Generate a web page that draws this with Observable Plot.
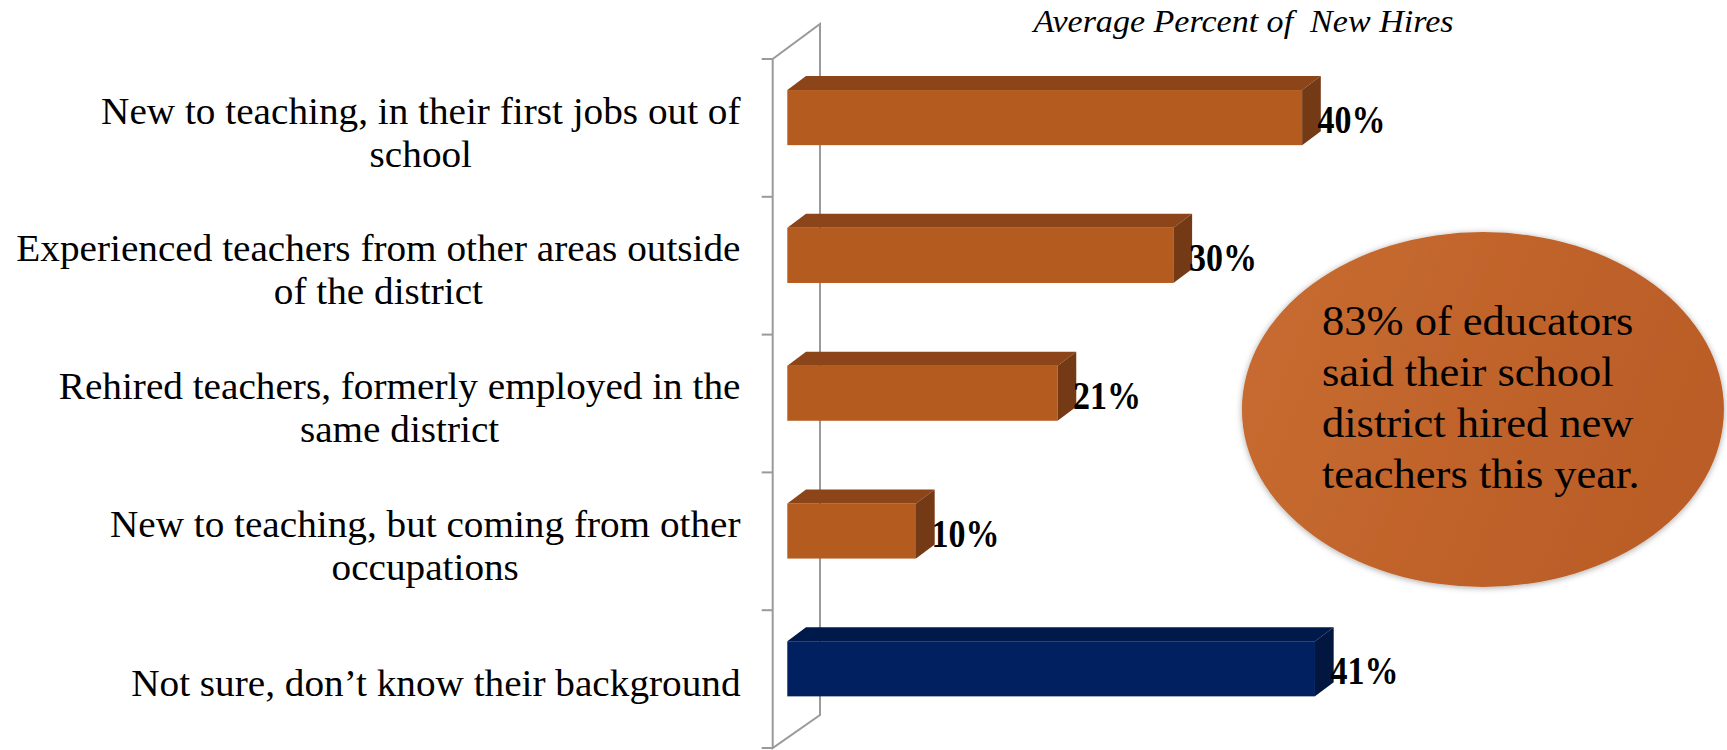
<!DOCTYPE html>
<html><head><meta charset="utf-8">
<script src="https://cdn.jsdelivr.net/npm/d3@7"></script>
<script src="https://cdn.jsdelivr.net/npm/@observablehq/plot@0.6"></script>
<style>
html,body{margin:0;padding:0;background:#fff;}
#chart svg{display:block;}
</style></head><body><div id="chart"></div>
<script>
// ---------- data ----------
const categories = [
  "New to teaching, in their first jobs out of\nschool",
  "Experienced teachers from other areas outside\nof the district",
  "Rehired teachers, formerly employed in the\nsame district",
  "New to teaching, but coming from other\noccupations",
  "Not sure, don\u2019t know their background"
];
const values = [40, 30, 21, 10, 41];
const groups = ["known", "known", "known", "known", "unknown"];
const chartTitle = "Average Percent of  New Hires";
const calloutLines = ["83% of educators", "said their school", "district hired new", "teachers this year."];

const data = categories.map((c, i) => ({category: c, value: values[i], group: groups[i]}));

// ---------- styling ----------
const W = 1727, H = 750;
const X0 = 787.3, PX = 12.87, XMAX = 72;
const frontCol = {known: "#B45B20", unknown: "#002060"};
const topCol = {known: "#8B4519", unknown: "#00194B"};
const sideCol = {known: "#743A16", unknown: "#021640"};
const BAR_DY = -10.3, DEPTH_X = 18.7, DEPTH_Y = 14;
const FONT = "'Liberation Serif', 'Times New Roman', serif";

function bandOf(scales) {
  const y = scales.y;
  const bw = typeof y.bandwidth === "function" ? y.bandwidth() : scales.scales.y.bandwidth;
  const st = typeof y.step === "function" ? y.step() : scales.scales.y.step;
  return {bw, st};
}

function wallMark(index, scales, values, dims) {
  const {st} = bandOf(scales);
  const x0 = scales.x(0);
  const fx = x0 - 14.6, bx = x0 + 32.7;
  const top = dims.marginTop, bottom = dims.height - dims.marginBottom;
  const g = d3.create("svg:g").attr("fill", "none").attr("stroke", "#9a9a9a").attr("stroke-width", 2);
  g.append("path").attr("d", `M${fx},${bottom}L${fx},${top}L${bx},${top - 35}L${bx},${bottom - 33}Z`);
  for (let i = 0; i <= categories.length; i++) {
    const yy = scales.y(categories[Math.min(i, categories.length - 1)]) - st * 0.3 + (i === categories.length ? st : 0);
    g.append("line").attr("x1", fx - 11).attr("x2", fx).attr("y1", yy).attr("y2", yy);
  }
  return g.node();
}

function facesMark(index, scales, values, dims) {
  const {bw} = bandOf(scales);
  const g = d3.create("svg:g");
  for (const d of data) {
    const x0 = scales.x(0), x1 = scales.x(d.value);
    const t = scales.y(d.category) + BAR_DY, b = t + bw;
    g.append("polygon")
      .attr("points", [[x0, t], [x0 + DEPTH_X, t - DEPTH_Y], [x1 + DEPTH_X, t - DEPTH_Y], [x1, t]].join(" "))
      .attr("fill", topCol[d.group]);
    g.append("polygon")
      .attr("points", [[x1, t], [x1 + DEPTH_X, t - DEPTH_Y], [x1 + DEPTH_X, b - DEPTH_Y], [x1, b]].join(" "))
      .attr("fill", sideCol[d.group]);
  }
  return g.node();
}

function calloutMark(index, scales, values, dims) {
  const {bw} = bandOf(scales);
  const cx = scales.x(54.05);
  const cy = scales.y(categories[2]) + bw / 2 + 6;
  const g = d3.create("svg:g");
  const defs = g.append("defs");
  const grad = defs.append("linearGradient").attr("id", "ellGrad").attr("x1", "0").attr("x2", "1").attr("y1", "0").attr("y2", "0.3");
  grad.append("stop").attr("offset", "0").attr("stop-color", "#C86C31");
  grad.append("stop").attr("offset", "1").attr("stop-color", "#BA5D27");
  const f = defs.append("filter").attr("id", "ellShadow").attr("x", "-10%").attr("y", "-10%").attr("width", "120%").attr("height", "120%");
  f.append("feDropShadow").attr("dx", 0).attr("dy", 1).attr("stdDeviation", 3).attr("flood-color", "#000").attr("flood-opacity", 0.35);
  g.append("ellipse").attr("cx", cx).attr("cy", cy).attr("rx", 241).attr("ry", 177.5)
    .attr("fill", "url(#ellGrad)").attr("filter", "url(#ellShadow)");
  const txt = g.append("text").attr("font-family", FONT).attr("font-size", 42).attr("fill", "#000")
    .attr("text-anchor", "start").attr("class", "callout-text");
  calloutLines.forEach((line, i) => {
    txt.append("tspan").attr("x", cx - 161).attr("y", cy - 74.5 + i * 51).text(line);
  });
  return g.node();
}

const plot = Plot.plot({
  width: W, height: H,
  marginLeft: X0, marginRight: W - X0 - XMAX * PX, marginTop: 59, marginBottom: 2,
  x: {domain: [0, XMAX], axis: null},
  y: {domain: categories, paddingInner: 0.6, paddingOuter: 0.3, axis: null, round: false},
  style: {background: "white", fontFamily: FONT, color: "black"},
  marks: [
    wallMark,
    Plot.barX(data.filter(d => d.group === "known"), {x: "value", y: "category", fill: frontCol.known, dy: BAR_DY}),
    Plot.barX(data.filter(d => d.group === "unknown"), {x: "value", y: "category", fill: frontCol.unknown, dy: BAR_DY}),
    facesMark,
    Plot.text(data, {x: "value", y: "category", text: d => d.value + "%", dx: 15, dy: -8,
      textAnchor: "start", fontSize: 40, fontWeight: "bold", fill: "black"}),
    Plot.text(data, {y: "category", text: "category", frameAnchor: "left", dx: -47.3, dy: 3,
      textAnchor: "end", fontSize: 37, lineHeight: 1.16, fill: "black"}),
    calloutMark,
    Plot.text([chartTitle], {frameAnchor: "top-left", dx: 1243 - X0, dy: -28, textAnchor: "middle",
      lineAnchor: "bottom", fontSize: 32, fontStyle: "italic", fill: "black"})
  ]
});
document.getElementById("chart").appendChild(plot);

// ---------- text fitting ----------
const textGroups = plot.querySelectorAll('g[aria-label="text"]');
const vGroup = textGroups[0], cGroup = textGroups[1], tGroup = textGroups[2];
if (vGroup) vGroup.querySelectorAll("text").forEach(t => {
  const L = t.getComputedTextLength();
  t.setAttribute("textLength", (L * 0.85).toFixed(1));
  t.setAttribute("lengthAdjust", "spacingAndGlyphs");
});
if (cGroup) cGroup.querySelectorAll("text").forEach(t => {
  const spans = t.querySelectorAll("tspan");
  if (spans.length) {
    let mx = 0;
    spans.forEach(s => {
      const L = s.getComputedTextLength() * 1.06;
      s.setAttribute("textLength", L.toFixed(1));
      s.setAttribute("lengthAdjust", "spacingAndGlyphs");
      mx = Math.max(mx, L);
    });
    t.setAttribute("text-anchor", "middle");
    spans.forEach(s => s.setAttribute("x", (-mx / 2).toFixed(1)));
  } else {
    const L = t.getComputedTextLength();
    t.setAttribute("textLength", (L * 1.06).toFixed(1));
    t.setAttribute("lengthAdjust", "spacingAndGlyphs");
  }
});
if (tGroup) tGroup.querySelectorAll("text").forEach(t => {
  t.style.whiteSpace = "pre";
  t.setAttribute("font-family", FONT);
  t.setAttribute("font-size", "32");
  t.setAttribute("textLength", "420");
  t.setAttribute("lengthAdjust", "spacingAndGlyphs");
});
plot.querySelectorAll("text.callout-text tspan").forEach(s => {
  const L = s.getComputedTextLength();
  s.setAttribute("textLength", (L * 1.06).toFixed(1));
  s.setAttribute("lengthAdjust", "spacingAndGlyphs");
});
</script></body></html>
